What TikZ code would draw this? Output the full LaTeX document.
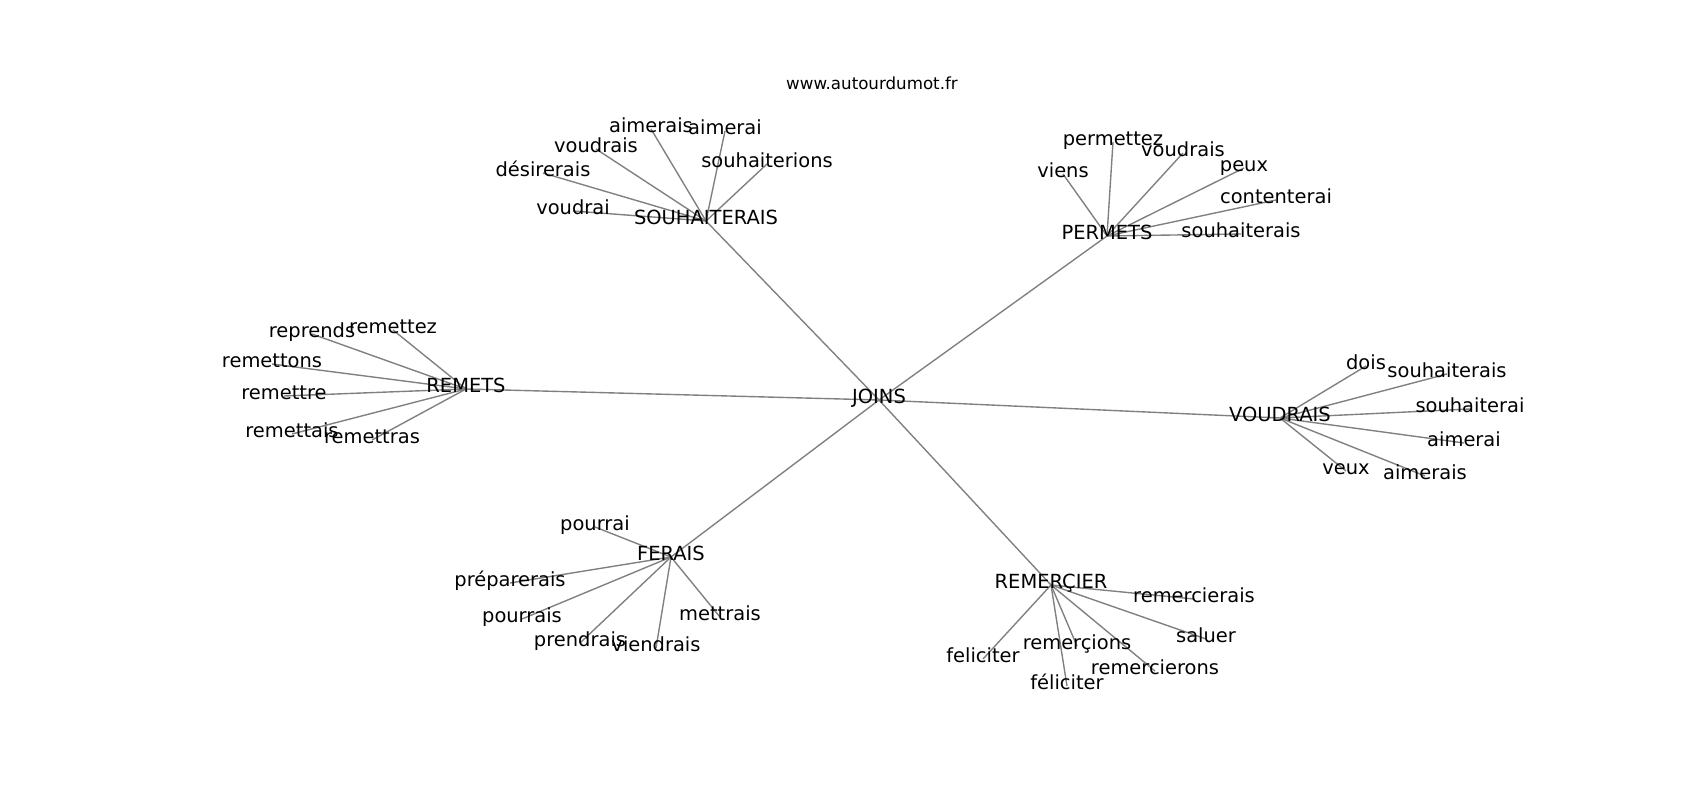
\documentclass[tikz,border=0pt]{standalone}
\usepackage{fontspec}
\setmainfont{DejaVu Sans}
\usetikzlibrary{backgrounds}

\tikzset{
    word/.style={inner sep=0pt, text height=0.76em, text depth=0.21em, font=\fontsize{14bp}{17bp}\selectfont},
    edge/.style={draw=gray, line width=1bp},
}

\begin{document}
\begin{tikzpicture}[x=0.01in, y=-0.01in]
    \useasboundingbox (0, -3) rectangle (1700, 797);
    \node[word, font=\fontsize{12bp}{14bp}\selectfont] (site) at (872, 83) {www.autourdumot.fr};
    % centre and hubs
    \node[word] (joins) at (879, 397) {JOINS};
    \node[word] (souh) at (706, 218) {SOUHAITERAIS};
    \node[word] (perm) at (1107, 233) {PERMETS};
    \node[word] (remets) at (466, 386) {REMETS};
    \node[word] (voud) at (1280, 415) {VOUDRAIS};
    \node[word] (ferais) at (671, 554) {FERAIS};
    \node[word] (remer) at (1051, 582) {REMERÇIER};
    % SOUHAITERAIS
    \node[word] (s-aimerais) at (651, 126) {aimerais};
    \node[word] (s-aimerai) at (725, 128) {aimerai};
    \node[word] (s-voudrais) at (596, 146) {voudrais};
    \node[word] (s-souhaiterions) at (767, 161) {souhaiterions};
    \node[word] (s-desirerais) at (543, 170) {désirerais};
    \node[word] (s-voudrai) at (573, 208) {voudrai};
    % PERMETS
    \node[word] (p-viens) at (1063, 171) {viens};
    \node[word] (p-permettez) at (1113, 139) {permettez};
    \node[word] (p-voudrais) at (1183, 150) {voudrais};
    \node[word] (p-peux) at (1244, 165) {peux};
    \node[word] (p-contenterai) at (1276, 197) {contenterai};
    \node[word] (p-souhaiterais) at (1241, 231) {souhaiterais};
    % REMETS
    \node[word] (r-reprends) at (312, 331) {reprends};
    \node[word] (r-remettez) at (393, 327) {remettez};
    \node[word] (r-remettons) at (272, 361) {remettons};
    \node[word] (r-remettre) at (284, 393) {remettre};
    \node[word] (r-remettais) at (292, 431) {remettais};
    \node[word] (r-remettras) at (372, 437) {remettras};
    % VOUDRAIS
    \node[word] (v-dois) at (1366, 363) {dois};
    \node[word] (v-souhaiterais) at (1447, 371) {souhaiterais};
    \node[word] (v-souhaiterai) at (1470, 406) {souhaiterai};
    \node[word] (v-aimerai) at (1464, 440) {aimerai};
    \node[word] (v-veux) at (1346, 468) {veux};
    \node[word] (v-aimerais) at (1425, 473) {aimerais};
    % FERAIS
    \node[word] (f-pourrai) at (595, 524) {pourrai};
    \node[word] (f-preparerais) at (510, 580) {préparerais};
    \node[word] (f-pourrais) at (522, 616) {pourrais};
    \node[word] (f-prendrais) at (580, 640) {prendrais};
    \node[word] (f-viendrais) at (656, 645) {viendrais};
    \node[word] (f-mettrais) at (720, 614) {mettrais};
    % REMERÇIER
    \node[word] (m-remercierais) at (1194, 596) {remercierais};
    \node[word] (m-saluer) at (1206, 636) {saluer};
    \node[word] (m-remercions) at (1077, 643) {remerçions};
    \node[word] (m-feliciter) at (983, 656) {feliciter};
    \node[word] (m-remercierons) at (1155, 668) {remercierons};
    \node[word] (m-feliciter2) at (1067, 683) {féliciter};
    \begin{scope}[on background layer]
        \draw[edge] (joins.center) -- (souh.center);
        \draw[edge] (joins.center) -- (perm.center);
        \draw[edge] (joins.center) -- (remets.center);
        \draw[edge] (joins.center) -- (voud.center);
        \draw[edge] (joins.center) -- (ferais.center);
        \draw[edge] (joins.center) -- (remer.center);
        \draw[edge] (souh.center) -- (s-aimerais.center);
        \draw[edge] (souh.center) -- (s-aimerai.center);
        \draw[edge] (souh.center) -- (s-voudrais.center);
        \draw[edge] (souh.center) -- (s-souhaiterions.center);
        \draw[edge] (souh.center) -- (s-desirerais.center);
        \draw[edge] (souh.center) -- (s-voudrai.center);
        \draw[edge] (perm.center) -- (p-viens.center);
        \draw[edge] (perm.center) -- (p-permettez.center);
        \draw[edge] (perm.center) -- (p-voudrais.center);
        \draw[edge] (perm.center) -- (p-peux.center);
        \draw[edge] (perm.center) -- (p-contenterai.center);
        \draw[edge] (perm.center) -- (p-souhaiterais.center);
        \draw[edge] (remets.center) -- (r-reprends.center);
        \draw[edge] (remets.center) -- (r-remettez.center);
        \draw[edge] (remets.center) -- (r-remettons.center);
        \draw[edge] (remets.center) -- (r-remettre.center);
        \draw[edge] (remets.center) -- (r-remettais.center);
        \draw[edge] (remets.center) -- (r-remettras.center);
        \draw[edge] (voud.center) -- (v-dois.center);
        \draw[edge] (voud.center) -- (v-souhaiterais.center);
        \draw[edge] (voud.center) -- (v-souhaiterai.center);
        \draw[edge] (voud.center) -- (v-aimerai.center);
        \draw[edge] (voud.center) -- (v-veux.center);
        \draw[edge] (voud.center) -- (v-aimerais.center);
        \draw[edge] (ferais.center) -- (f-pourrai.center);
        \draw[edge] (ferais.center) -- (f-preparerais.center);
        \draw[edge] (ferais.center) -- (f-pourrais.center);
        \draw[edge] (ferais.center) -- (f-prendrais.center);
        \draw[edge] (ferais.center) -- (f-viendrais.center);
        \draw[edge] (ferais.center) -- (f-mettrais.center);
        \draw[edge] (remer.center) -- (m-remercierais.center);
        \draw[edge] (remer.center) -- (m-saluer.center);
        \draw[edge] (remer.center) -- (m-remercions.center);
        \draw[edge] (remer.center) -- (m-feliciter.center);
        \draw[edge] (remer.center) -- (m-remercierons.center);
        \draw[edge] (remer.center) -- (m-feliciter2.center);
    \end{scope}
\end{tikzpicture}
\end{document}
